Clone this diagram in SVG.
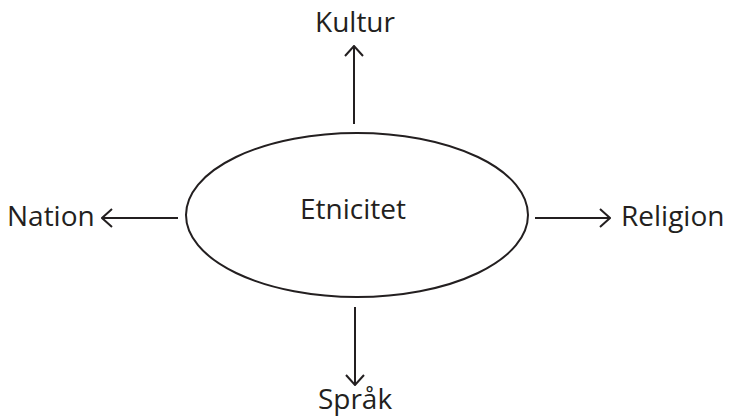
<svg xmlns="http://www.w3.org/2000/svg" width="732" height="418" viewBox="0 0 732 418">
<style>
text{font-family:"Open Sans","Noto Sans","Liberation Sans",sans-serif;font-size:28px;fill:#231f20}
.c{stroke:#231f20;stroke-width:2;fill:none}
</style>
<defs>
<marker id="ah" viewBox="0 0 12 20" refX="11" refY="10" markerWidth="12" markerHeight="20" markerUnits="userSpaceOnUse" orient="auto">
<path d="M1,1 L11,10 L1,19" fill="none" stroke="#231f20" stroke-width="2"/>
</marker>
</defs>
<rect width="732" height="418" fill="#fff"/>
<g id="etnicitet">
<ellipse cx="357" cy="215" rx="171" ry="82" class="c"/>
<text x="353" y="219" text-anchor="middle">Etnicitet</text>
</g>
<g id="kultur"><text x="355" y="32" text-anchor="middle">Kultur</text></g>
<g id="nation"><text x="7" y="226">Nation</text></g>
<g id="religion"><text x="621" y="226">Religion</text></g>
<g id="sprak"><text x="355" y="409" text-anchor="middle">Språk</text></g>
<g id="connectors">
<line x1="354" y1="124" x2="354" y2="46" class="c" marker-end="url(#ah)"/>
<line x1="178" y1="218" x2="102" y2="218" class="c" marker-end="url(#ah)"/>
<line x1="535" y1="218" x2="610" y2="218" class="c" marker-end="url(#ah)"/>
<line x1="355" y1="307" x2="355" y2="385" class="c" marker-end="url(#ah)"/>
</g>
</svg>
